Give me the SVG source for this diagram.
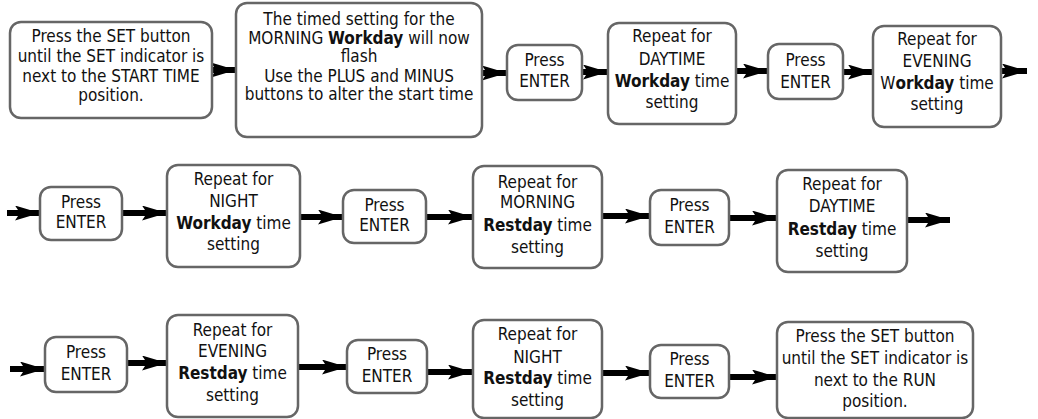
<svg xmlns="http://www.w3.org/2000/svg" width="1038" height="419" viewBox="0 0 1038 419">
<defs>
<marker id="ah" markerUnits="userSpaceOnUse" markerWidth="27" markerHeight="17" refX="25" refY="7.5" orient="auto">
<path d="M0,0 L25,7.5 L0,15 L5,7.5 Z" fill="#000"/>
</marker>
<style>
.box{fill:#fff;stroke:#666;stroke-width:2.5}
text{font-family:"Liberation Sans Narrow","DejaVu Sans Condensed","Liberation Sans",sans-serif;font-size:17px;fill:#111;text-anchor:middle}
.b{font-weight:bold}
.c path{stroke:#000;stroke-width:6;fill:none;marker-end:url(#ah)}
</style>
</defs>
<rect width="1038" height="419" fill="#fff"/>
<g class="c" id="connectors">
<path d="M212,70 H236"/>
<path d="M482,73 H507"/>
<path d="M582,72 H608"/>
<path d="M736,71 H768"/>
<path d="M843,72 H873"/>
<path d="M1001,71 H1027"/>
<path d="M7,213 H40"/>
<path d="M122,213 H167"/>
<path d="M300,217 H343"/>
<path d="M426,217 H473"/>
<path d="M602,216 H650"/>
<path d="M729,218 H777"/>
<path d="M907,220 H950"/>
<path d="M10,369 H45"/>
<path d="M127,363 H167"/>
<path d="M298,367 H347"/>
<path d="M427,372 H473"/>
<path d="M602,373 H650"/>
<path d="M729,377 H777"/>
</g>
<g id="n1"><rect class="box" x="10" y="22" width="202" height="96" rx="11"/>
<text x="111" y="42">Press the SET button</text><text x="111" y="62">until the SET indicator is</text><text x="111" y="82">next to the START TIME</text><text x="111" y="101">position.</text></g>
<g id="n2"><rect class="box" x="236" y="3" width="246" height="134" rx="11"/>
<text x="359" y="25">The timed setting for the</text><text x="359" y="44">MORNING <tspan class="b">Workday</tspan> will now</text><text x="359" y="62">flash</text><text x="359" y="82">Use the PLUS and MINUS</text><text x="359" y="100">buttons to alter the start time</text></g>
<g id="n3"><rect class="box" x="507" y="45" width="75" height="55" rx="11"/>
<text x="544.5" y="66">Press</text><text x="544.5" y="87">ENTER</text></g>
<g id="n4"><rect class="box" x="608" y="23" width="128" height="101" rx="11"/>
<text x="672" y="41.5">Repeat for</text><text x="672" y="65">DAYTIME</text><text x="672" y="87"><tspan class="b">Workday</tspan> time</text><text x="672" y="108">setting</text></g>
<g id="n5"><rect class="box" x="768" y="44" width="75" height="55" rx="11"/>
<text x="805.5" y="66">Press</text><text x="805.5" y="88">ENTER</text></g>
<g id="n6"><rect class="box" x="873" y="26" width="128" height="101" rx="11"/>
<text x="937" y="45">Repeat for</text><text x="937" y="67">EVENING</text><text x="937" y="89">W<tspan class="b">orkday</tspan> time</text><text x="937" y="110">setting</text></g>
<g id="n7"><rect class="box" x="40" y="187" width="82" height="53" rx="11"/>
<text x="81" y="208">Press</text><text x="81" y="228">ENTER</text></g>
<g id="n8"><rect class="box" x="167" y="165" width="133" height="102" rx="11"/>
<text x="233.5" y="185">Repeat for</text><text x="233.5" y="207">NIGHT</text><text x="233.5" y="229"><tspan class="b">Workday</tspan> time</text><text x="233.5" y="250">setting</text></g>
<g id="n9"><rect class="box" x="343" y="190" width="83" height="53" rx="11"/>
<text x="384.5" y="211">Press</text><text x="384.5" y="231">ENTER</text></g>
<g id="n10"><rect class="box" x="473" y="166" width="129" height="102" rx="11"/>
<text x="537.5" y="188">Repeat for</text><text x="537.5" y="208">MORNING</text><text x="537.5" y="231"><tspan class="b">Restday</tspan> time</text><text x="537.5" y="253">setting</text></g>
<g id="n11"><rect class="box" x="650" y="190" width="79" height="55" rx="11"/>
<text x="689.5" y="211">Press</text><text x="689.5" y="233">ENTER</text></g>
<g id="n12"><rect class="box" x="777" y="170" width="130" height="102" rx="11"/>
<text x="842" y="190">Repeat for</text><text x="842" y="212">DAYTIME</text><text x="842" y="235"><tspan class="b">Restday</tspan> time</text><text x="842" y="257">setting</text></g>
<g id="n13"><rect class="box" x="45" y="337" width="82" height="55" rx="11"/>
<text x="86" y="358">Press</text><text x="86" y="380">ENTER</text></g>
<g id="n14"><rect class="box" x="167" y="315" width="131" height="102" rx="11"/>
<text x="232.5" y="336">Repeat for</text><text x="232.5" y="357">EVENING</text><text x="232.5" y="379"><tspan class="b">Restday</tspan> time</text><text x="232.5" y="401">setting</text></g>
<g id="n15"><rect class="box" x="347" y="340" width="80" height="53" rx="11"/>
<text x="387" y="360">Press</text><text x="387" y="382">ENTER</text></g>
<g id="n16"><rect class="box" x="473" y="320" width="129" height="98" rx="11"/>
<text x="537.5" y="340">Repeat for</text><text x="537.5" y="363">NIGHT</text><text x="537.5" y="384"><tspan class="b">Restday</tspan> time</text><text x="537.5" y="406">setting</text></g>
<g id="n17"><rect class="box" x="650" y="345" width="79" height="53" rx="11"/>
<text x="689.5" y="365">Press</text><text x="689.5" y="387">ENTER</text></g>
<g id="n18"><rect class="box" x="777" y="322" width="196" height="96" rx="11"/>
<text x="875" y="342">Press the SET button</text><text x="875" y="364">until the SET indicator is</text><text x="875" y="386">next to the RUN</text><text x="875" y="407">position.</text></g>
</svg>
